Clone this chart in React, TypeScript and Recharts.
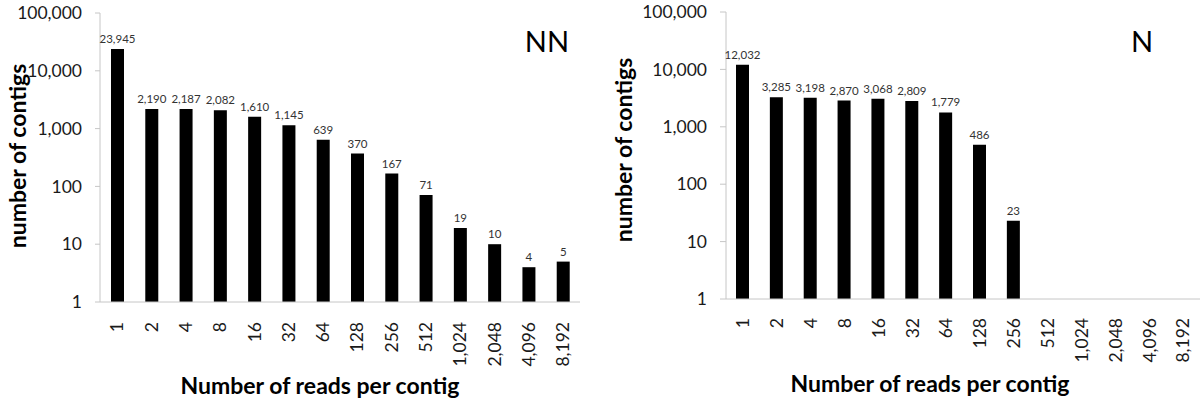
import { FC } from 'react'
import { Bar, BarChart, Customized, LabelList, XAxis, YAxis } from 'recharts'

const CATEGORIES = ['1', '2', '4', '8', '16', '32', '64', '128', '256', '512', '1,024', '2,048', '4,096', '8,192']
const NN_COUNTS = [23945, 2190, 2187, 2082, 1610, 1145, 639, 370, 167, 71, 19, 10, 4, 5]
const N_COUNTS = [12032, 3285, 3198, 2870, 3068, 2809, 1779, 486, 23, null, null, null, null, null]
const Y_TICKS = [1, 10, 100, 1000, 10000, 100000]

const FONT = 'Lato, "Open Sans", sans-serif'
const AXIS_GRAY = '#c6c6c6'

interface IPanel {
	tag: string
	values: (number | null)[]
	yAxisWidth: number
	marginRight: number
	marginTop: number
	xAxisHeight: number
	tickSize: number
	tagX: number
	titleX: number
	titleY: number
	yTitleX: number
	yTitleY: number
	tickGap: number
}

const ReadsTick = (props: any) => {
	const { x, y, payload } = props
	return (
		<text
			x={x}
			y={y}
			transform={`rotate(-90, ${x}, ${y})`}
			textAnchor="end"
			dy="0.36em"
			fontSize={17.5}
			fontFamily={FONT}
			fill="#1a1a1a"
		>
			{payload.value}
		</text>
	)
}

const CountLabel = (props: any) => {
	const { x, y, width, value } = props
	if (value == null) return null
	return (
		<text x={x + width / 2} y={y - 6} textAnchor="middle" fontSize={11.5} fontFamily={FONT} fill="#333">
			{Number(value).toLocaleString('en-US')}
		</text>
	)
}

const Panel: FC<IPanel> = (p) => {
	const data = CATEGORIES.map((reads, i) => ({ reads, contigs: p.values[i] }))
	return (
		<BarChart
			width={600}
			height={401}
			data={data}
			margin={{ top: p.marginTop, right: p.marginRight, bottom: 0, left: 0 }}
			barSize={13}
		>
			<XAxis
				dataKey="reads"
				interval={0}
				height={p.xAxisHeight}
				stroke={AXIS_GRAY}
				tickLine={false}
				tickSize={0}
				tickMargin={p.tickGap}
				tick={<ReadsTick />}
			/>
			<YAxis
				scale="log"
				domain={[1, 100000]}
				ticks={Y_TICKS}
				allowDataOverflow
				width={p.yAxisWidth}
				stroke={AXIS_GRAY}
				tickSize={p.tickSize}
				tickMargin={13}
				tick={{ fill: '#1a1a1a', fontSize: 17.5, fontFamily: FONT }}
				tickFormatter={(v: number) => v.toLocaleString('en-US')}
			/>
			<Bar dataKey="contigs" fill="#000" isAnimationActive={false}>
				<LabelList dataKey="contigs" content={<CountLabel />} />
			</Bar>
			<Customized
				component={() => (
					<g fontFamily={FONT}>
						<text x={p.tagX} y={52} textAnchor="middle" fontSize={29} fill="#000">
							{p.tag}
						</text>
						<text x={p.titleX} y={p.titleY} textAnchor="middle" fontSize={23} fontWeight="bold" fill="#000">
							Number of reads per contig
						</text>
						<text
							x={p.yTitleX}
							y={p.yTitleY}
							transform={`rotate(-90, ${p.yTitleX}, ${p.yTitleY})`}
							textAnchor="middle"
							fontSize={23}
							fontWeight="bold"
							fill="#000"
						>
							number of contigs
						</text>
					</g>
				)}
			/>
		</BarChart>
	)
}

const App: FC = () => (
	<div style={{ position: 'absolute', left: 0, top: 0, width: 1200, height: 401, background: '#fff', fontFamily: FONT }}>
		<div style={{ position: 'absolute', left: 0, top: 0 }}>
			<Panel
				tag="NN"
				values={NN_COUNTS}
				yAxisWidth={100}
				marginRight={20}
				marginTop={13}
				xAxisHeight={99}
				tickSize={5}
				tagX={547}
				titleX={320}
				titleY={394}
				yTitleX={26}
				yTitleY={156}
				tickGap={20}
			/>
		</div>
		<div style={{ position: 'absolute', left: 600, top: 0 }}>
			<Panel
				tag="N"
				values={N_COUNTS}
				yAxisWidth={126}
				marginRight={0}
				marginTop={12}
				xAxisHeight={102}
				tickSize={6}
				tagX={542}
				titleX={330}
				titleY={392}
				yTitleX={32}
				yTitleY={150}
				tickGap={19}
			/>
		</div>
	</div>
)

export default App
